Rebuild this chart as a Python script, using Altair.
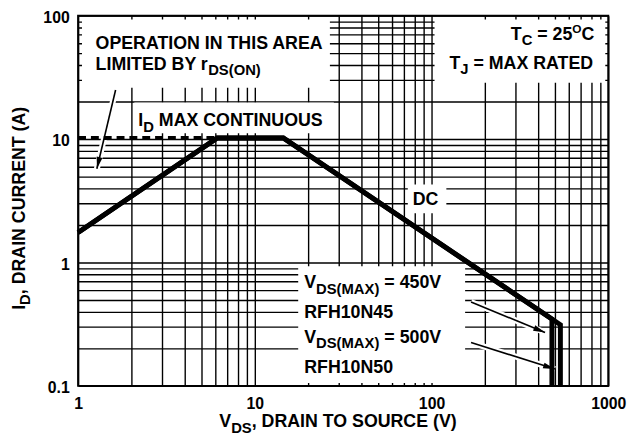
import math
import altair as alt
import pandas as pd

# ---------------- data ----------------
# Safe operating area boundary (DC), one per device rating
VDS_RFH10N45 = [1.0, 6.13, 14.5, 480.0, 480.0]
ID_RFH10N45 = [1.75, 10.2, 10.2, 0.348, 0.1]
VDS_RFH10N50 = [1.0, 6.13, 14.5, 536.0, 536.0]
ID_RFH10N50 = [1.75, 10.2, 10.2, 0.313, 0.1]
# I_D max continuous (dashed)
VDS_ID_MAX = [1.0, 6.13]
ID_MAX = [10.2, 10.2]

X_TICK_LABELS = [1, 10, 100, 1000]
Y_TICK_LABELS = [0.1, 1, 10, 100]
MANTISSAS = [1, 2, 3, 4, 5, 6, 7, 8, 9]

# annotation boxes (white backgrounds), in data units
BOX_X1 = [1.052, 2.08, 104.0, 73.4, 17.6]
BOX_X2 = [26.6, 28.0, 962.0, 121.3, 154.9]
BOX_Y1 = [26.1, 11.17, 28.6, 2.51, 0.1057]
BOX_Y2 = [93.0, 19.77, 93.0, 4.285, 0.93]

# arrows, in data units
ARROW_TAIL_X = [1.63, 167.3, 167.3]
ARROW_TAIL_Y = [24.98, 0.479, 0.225]
ARROW_TIP_X = [1.277, 439.0, 499.0]
ARROW_TIP_Y = [5.75, 0.2704, 0.1368]

# ---------------- layout / style ----------------
WIDTH, HEIGHT = 537, 375
FONT = "Liberation Sans"
MAIN, SUB, SUP = 18, 15, 12

X_GRID = sorted({round(m * d, 6) for d in [1, 10, 100] for m in MANTISSAS} | {1000})
Y_GRID = sorted({round(m * d, 6) for d in [0.1, 1, 10] for m in MANTISSAS} | {100})

XS = alt.Scale(type="log", domain=[1, 1000], nice=False)
YS = alt.Scale(type="log", domain=[0.1, 100], nice=False)

common_axis = dict(grid=True, gridColor="black", gridWidth=1.4, gridOpacity=1,
                   ticks=False, tickSize=0, domain=False, title=None,
                   labelFont=FONT, labelFontWeight="bold", labelFontSize=16,
                   labelColor="black", labelOverlap=False)
XAX = alt.Axis(values=X_GRID, labelPadding=10, labelFlush=False,
               labelExpr=f"indexof({X_TICK_LABELS}, datum.value) >= 0 ? format(datum.value, '~g') : ''",
               **common_axis)
YAX = alt.Axis(values=Y_GRID, labelPadding=9, labelOffset=2,
               labelExpr=f"indexof({Y_TICK_LABELS}, datum.value) >= 0 ? format(datum.value, '~g') : ''",
               **common_axis)


def X(field):
    return alt.X(field, type="quantitative", scale=XS, axis=XAX)


def Y(field):
    return alt.Y(field, type="quantitative", scale=YS, axis=YAX)


# Arial/Liberation Sans Bold advance widths (per 1000 em)
WB = {" ": 278, "(": 333, ")": 333, ",": 278, ".": 278, "=": 584, "r": 389,
      "A": 722, "B": 722, "C": 722, "D": 722, "E": 667, "F": 611, "G": 778, "H": 722,
      "I": 278, "J": 556, "K": 722, "L": 611, "M": 833, "N": 722, "O": 778, "P": 667,
      "Q": 778, "R": 722, "S": 667, "T": 611, "U": 722, "V": 667, "W": 944, "X": 667,
      "Y": 667, "Z": 611}
for _d in "0123456789":
    WB[_d] = 556


def tw(s, size):
    return sum(WB.get(c, 600) for c in s) * size / 1000.0


def rich(segments, x, y, align="left", angle=0, pixel=False):
    total = sum(tw(t, s) for t, s, _ in segments)
    pos = 0.0 if align == "left" else -total
    out = []
    for t, s, dy in segments:
        body = t.lstrip(" ")
        lead = tw(t[: len(t) - len(body)], s)  # leading spaces become an offset
        m = alt.Chart(pd.DataFrame({"x": [x], "y": [y], "t": [body]})).mark_text(
            align="left", baseline="alphabetic", dx=pos + lead, dy=dy, fontSize=s,
            font=FONT, fontWeight="bold", color="black", angle=angle)
        if pixel:
            m = m.encode(x=alt.value(x), y=alt.value(y), text="t:N")
        else:
            m = m.encode(x=X("x"), y=Y("y"), text="t:N")
        out.append(m)
        pos += tw(t, s)
    return out


# ---------------- layers ----------------
boxes = alt.Chart(pd.DataFrame({"x1": BOX_X1, "x2": BOX_X2, "y1": BOX_Y1, "y2": BOX_Y2})).mark_rect(
    color="white", strokeWidth=0).encode(x=X("x1"), x2="x2", y=Y("y1"), y2="y2")

curve_df = pd.DataFrame({
    "vds": VDS_RFH10N45 + VDS_RFH10N50,
    "id": ID_RFH10N45 + ID_RFH10N50,
    "dev": ["RFH10N45"] * len(VDS_RFH10N45) + ["RFH10N50"] * len(VDS_RFH10N50),
    "i": list(range(len(VDS_RFH10N45))) + list(range(len(VDS_RFH10N50))),
})
curves = alt.Chart(curve_df).mark_line(color="black", strokeWidth=5, strokeJoin="miter",
                                       strokeCap="butt").encode(
    x=X("vds"), y=Y("id"), detail="dev:N", order="i:Q")

dashed = alt.Chart(pd.DataFrame({"vds": VDS_ID_MAX, "id": ID_MAX, "i": [0, 1]})).mark_line(
    color="black", strokeWidth=4, strokeDash=[8, 5], strokeCap="butt").encode(
    x=X("vds"), y=Y("id"), order="i:Q")

angles = []
for tx, ty, hx, hy in zip(ARROW_TAIL_X, ARROW_TAIL_Y, ARROW_TIP_X, ARROW_TIP_Y):
    dxp = WIDTH / 3 * math.log10(hx / tx)
    dyp = -HEIGHT / 3 * math.log10(hy / ty)
    angles.append(math.degrees(math.atan2(dxp, -dyp)) % 360)
arrow_df = pd.DataFrame({"tx": ARROW_TAIL_X, "ty": ARROW_TAIL_Y, "hx": ARROW_TIP_X,
                         "hy": ARROW_TIP_Y, "ang": angles})
halo = alt.Chart(arrow_df).mark_rule(color="white", strokeWidth=6).encode(
    x=X("tx"), y=Y("ty"), x2="hx", y2="hy")
shafts = alt.Chart(arrow_df).mark_rule(color="black", strokeWidth=1.6).encode(
    x=X("tx"), y=Y("ty"), x2="hx", y2="hy")
heads = alt.Chart(arrow_df).mark_point(shape="M0,0L0.5,2L-0.5,2Z", filled=True, size=144,
                                       color="black", opacity=1, strokeWidth=0).encode(
    x=X("hx"), y=Y("hy"), angle=alt.Angle("ang:Q", scale=None))

texts = []
texts += rich([("OPERATION IN THIS AREA", MAIN, 0)], 1.256, 53.95)
texts += rich([("LIMITED BY r", MAIN, 0), ("DS(ON)", SUB, 5.5)], 1.256, 36.5)
texts += rich([("I", MAIN, 0), ("D", SUB, 5.5), (" MAX CONTINUOUS", MAIN, 0)], 2.19, 12.7)
texts += rich([("T", MAIN, 0), ("C", SUB, 5), (" = 25", MAIN, 0), ("O", SUP, -7), ("C", MAIN, 0)],
              835, 63.7, align="right")
texts += rich([("T", MAIN, 0), ("J", SUB, 5), (" = MAX RATED", MAIN, 0)], 835, 37.2, align="right")
texts += rich([("DC", MAIN, 0)], 78.3, 2.91)
texts += rich([("V", MAIN, 0), ("DS(MAX)", SUB, 5.5), (" = 450V", MAIN, 0)], 19.03, 0.619)
texts += rich([("RFH10N45", MAIN, 0)], 19.03, 0.3544)
texts += rich([("V", MAIN, 0), ("DS(MAX)", SUB, 5.5), (" = 500V", MAIN, 0)], 19.03, 0.2237)
texts += rich([("RFH10N50", MAIN, 0)], 19.03, 0.127)
# axis titles (outside the plot, in pixels relative to the plot area)
texts += rich([("V", MAIN, 0), ("DS", SUB, 5.5), (", DRAIN TO SOURCE (V)", MAIN, 0)], 143, 417, pixel=True)
texts += rich([("I", MAIN, 0), ("D", SUB, 5.5), (", DRAIN CURRENT (A)", MAIN, 0)], -54, 298,
              angle=270, pixel=True)

chart = alt.layer(boxes, halo, dashed, curves, shafts, heads, *texts).properties(
    width=WIDTH, height=HEIGHT,
    autosize=alt.AutoSizeParams(type="none"),
    padding={"left": 71, "top": 5, "right": 20, "bottom": 47},
    background="white",
).configure_view(stroke="black", strokeWidth=2)

chart.save("out.html", embed_options={"renderer": "svg", "actions": False})
